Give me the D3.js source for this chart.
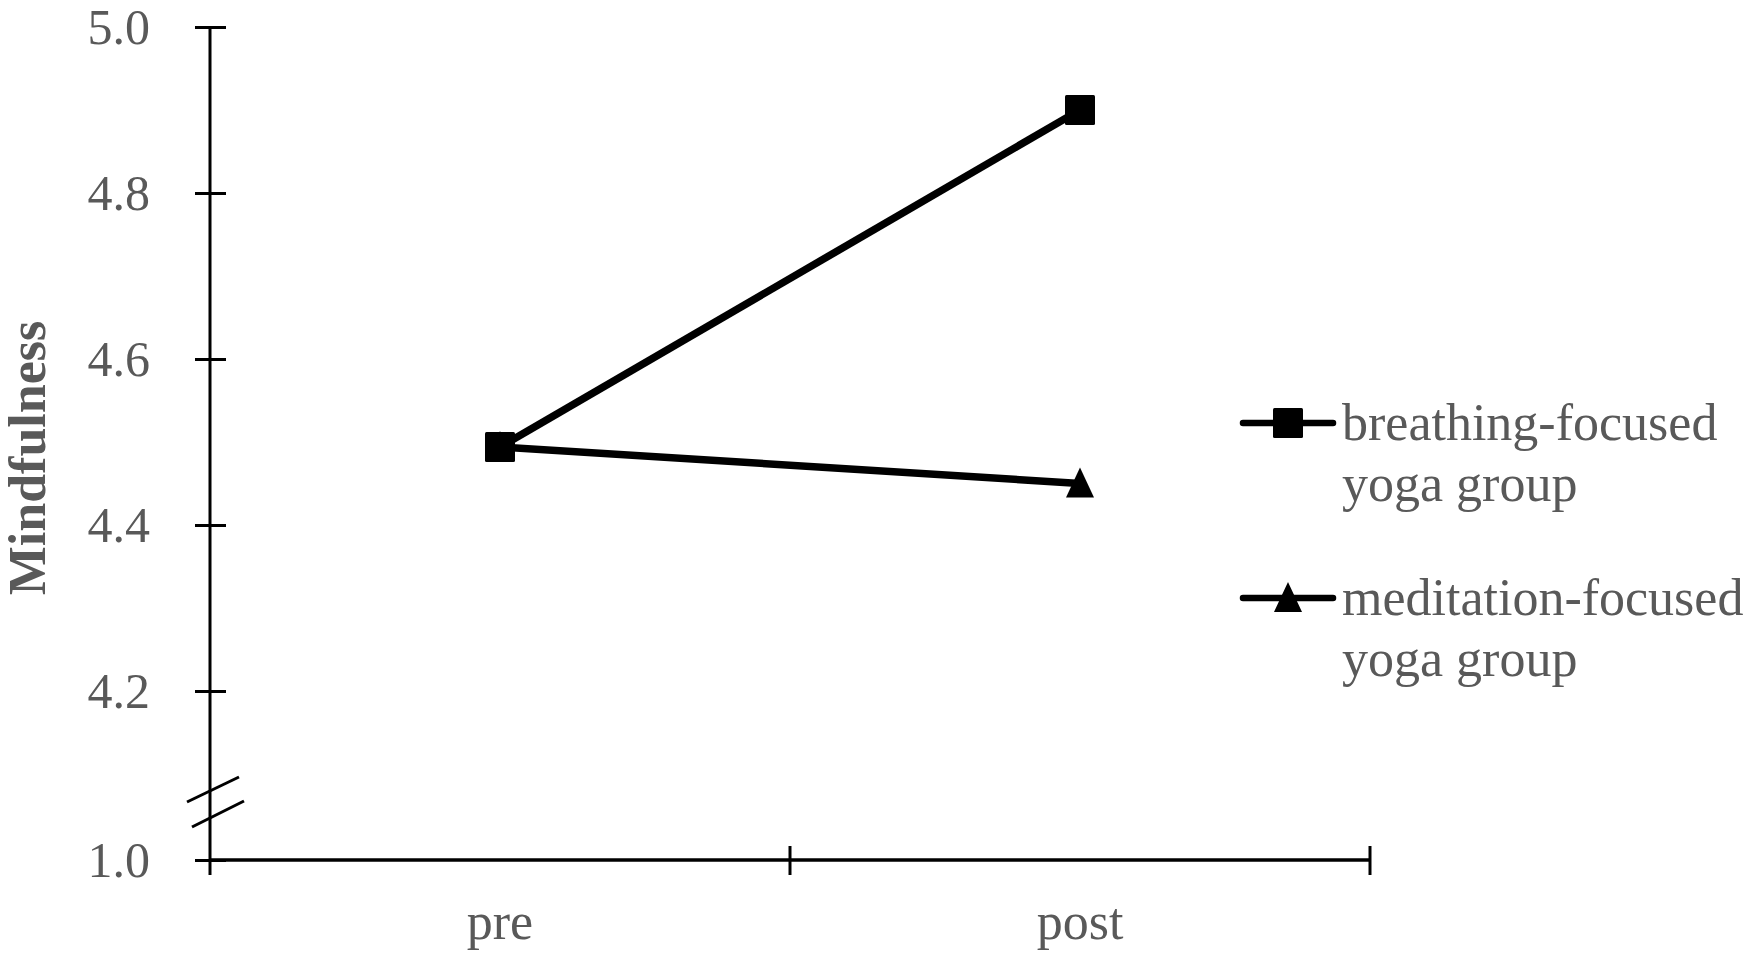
<!DOCTYPE html>
<html>
<head>
<meta charset="utf-8">
<script src="https://cdn.jsdelivr.net/npm/d3@7"></script>
<style>
  body { margin: 0; background: #fff; }
  svg { display: block; }
  text { font-family: "Liberation Serif", "Times New Roman", serif; fill: #595959; }
</style>
</head>
<body>
<svg></svg>
<script>
// chart data
var times = ["pre", "post"];
var breathing = [4.494, 4.90];
var meditation = [4.494, 4.45];
var seriesNames = [["breathing-focused", "yoga group"], ["meditation-focused", "yoga group"]];
var yTicks = [1.0, 4.2, 4.4, 4.6, 4.8, 5.0];

var screen = { width: 1750, height: 957 };

var svg = d3.select("svg")
  .attr("width", screen.width)
  .attr("height", screen.height);

var left = 210, right = 1370, bottom = 860;

// broken axis: 1.0 sits at the bottom, 4.2..5.0 on the upper part
var yScale = d3.scaleLinear()
  .domain([1.0, 4.2, 5.0])
  .range([bottom, 691, 27]);

var xScale = d3.scaleBand()
  .domain(times)
  .range([left, right])
  .paddingInner(0)
  .paddingOuter(0);

// y axis
var yAxis = d3.axisLeft(yScale)
  .tickValues(yTicks)
  .tickFormat(d3.format(".1f"))
  .tickSizeInner(15)
  .tickSizeOuter(0)
  .tickPadding(45);

var gy = svg.append("g")
  .attr("transform", "translate(" + left + ",0)")
  .call(yAxis);

gy.select(".domain").remove();
gy.selectAll(".tick line")
  .attr("x1", -15).attr("x2", 16)
  .attr("stroke", "#000").attr("stroke-width", 3);
gy.selectAll(".tick text")
  .attr("font-size", 50)
  .attr("fill", "#595959")
  .attr("font-family", "Liberation Serif");

gy.append("line")
  .attr("x1", 0).attr("x2", 0)
  .attr("y1", yScale(5.0)).attr("y2", bottom)
  .attr("stroke", "#000").attr("stroke-width", 3);

// axis break marks
var brk = svg.append("g").attr("stroke", "#000").attr("stroke-width", 3);
brk.append("line").attr("x1", left - 23).attr("y1", 802).attr("x2", left + 29).attr("y2", 777);
brk.append("line").attr("x1", left - 18).attr("y1", 827).attr("x2", left + 34).attr("y2", 801);

// x axis
var xAxis = d3.axisBottom(xScale)
  .tickSize(0)
  .tickPadding(42);

var gx = svg.append("g")
  .attr("transform", "translate(0," + bottom + ")")
  .call(xAxis);

gx.select(".domain").remove();
gx.selectAll(".tick text")
  .attr("font-size", 52)
  .attr("fill", "#595959")
  .attr("font-family", "Liberation Serif");

gx.append("line")
  .attr("x1", left).attr("x2", right)
  .attr("y1", 0).attr("y2", 0)
  .attr("stroke", "#000").attr("stroke-width", 3.5);

// category boundary ticks
var bounds = times.map(function(t) { return xScale(t); }).concat([right]);
gx.selectAll(".bound")
  .data(bounds)
  .enter()
  .append("line")
  .attr("class", "bound")
  .attr("x1", function(d) { return d; })
  .attr("x2", function(d) { return d; })
  .attr("y1", function(d, i) { return i == 0 ? 0 : -14; })
  .attr("y2", 15)
  .attr("stroke", "#000").attr("stroke-width", 3);

// y label
svg.append("text")
  .attr("transform", "translate(45,458) rotate(-90)")
  .attr("text-anchor", "middle")
  .attr("font-size", 52)
  .attr("font-weight", "bold")
  .text("Mindfulness");

var cx = function(d, i) { return xScale(times[i]) + xScale.bandwidth() / 2; };

var line = d3.line()
  .x(cx)
  .y(function(d) { return yScale(d); });

var trianglePath = "M0,-16 L14,14 L-14,14 Z";

// meditation series
svg.append("path")
  .datum(meditation)
  .attr("d", line)
  .attr("fill", "none")
  .attr("stroke", "#000")
  .attr("stroke-width", 7.5);

svg.selectAll(".tri")
  .data(meditation)
  .enter()
  .append("path")
  .attr("class", "tri")
  .attr("d", trianglePath)
  .attr("transform", function(d, i) { return "translate(" + cx(d, i) + "," + yScale(d) + ")"; })
  .attr("fill", "#000");

// breathing series
svg.append("path")
  .datum(breathing)
  .attr("d", line)
  .attr("fill", "none")
  .attr("stroke", "#000")
  .attr("stroke-width", 7.5);

svg.selectAll(".sq")
  .data(breathing)
  .enter()
  .append("rect")
  .attr("class", "sq")
  .attr("x", function(d, i) { return cx(d, i) - 15; })
  .attr("y", function(d) { return yScale(d) - 15; })
  .attr("width", 30)
  .attr("height", 30)
  .attr("rx", 1.5)
  .attr("fill", "#000");

// legend
var legend = svg.append("g").attr("transform", "translate(1243,0)");
var legendY = [423, 598];

legendY.forEach(function(y, i) {
  var g = legend.append("g").attr("transform", "translate(0," + y + ")");
  g.append("line")
    .attr("x1", 0).attr("x2", 90)
    .attr("stroke", "#000").attr("stroke-width", 6.5)
    .attr("stroke-linecap", "round");
  if (i == 0) {
    g.append("rect")
      .attr("x", 30).attr("y", -15)
      .attr("width", 30).attr("height", 30)
      .attr("rx", 1.5)
      .attr("fill", "#000");
  } else {
    g.append("path")
      .attr("d", trianglePath)
      .attr("transform", "translate(45,0)")
      .attr("fill", "#000");
  }
  var t = g.append("text")
    .attr("x", 99)
    .attr("y", 17)
    .attr("font-size", 52);
  t.append("tspan").attr("x", 99).text(seriesNames[i][0]);
  t.append("tspan").attr("x", 99).attr("dy", 61).text(seriesNames[i][1]);
});
</script>
</body>
</html>
